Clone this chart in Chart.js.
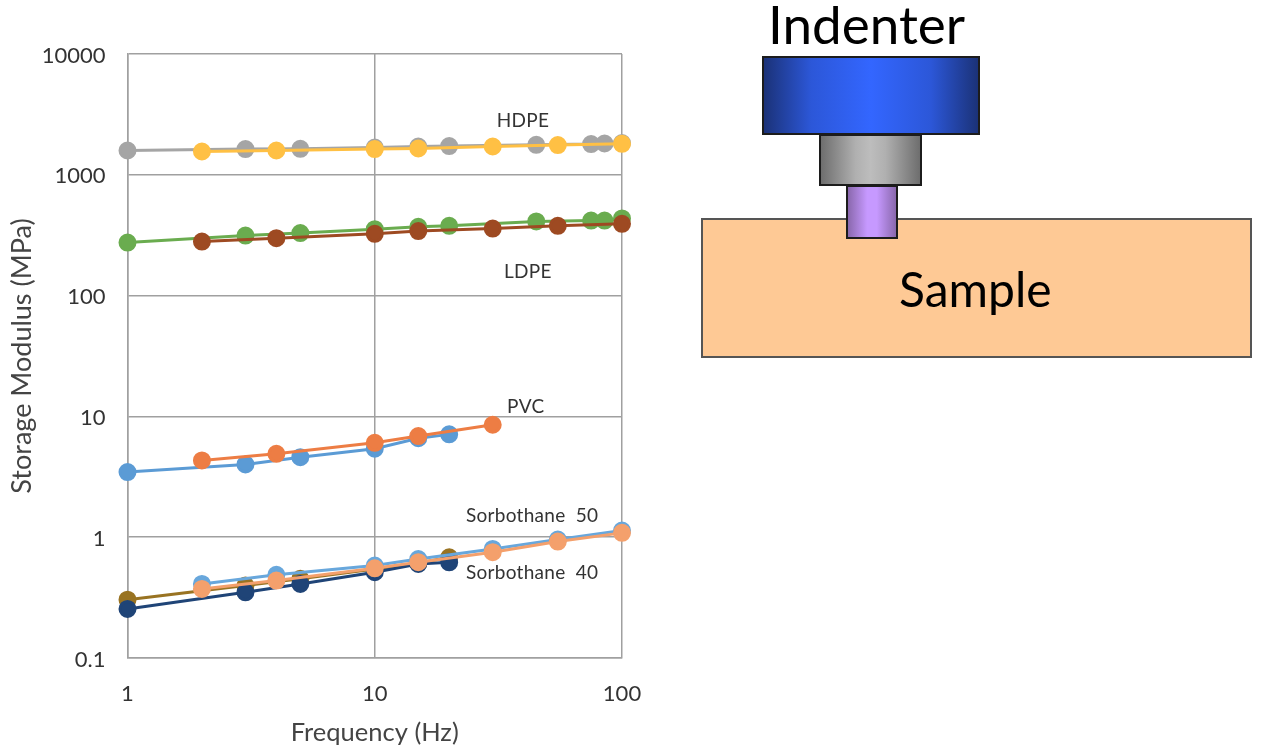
<!DOCTYPE html>
<html>
<head>
<meta charset="utf-8">
<title>Storage modulus</title>
<script src="https://cdn.jsdelivr.net/npm/chart.js@4"></script>
<style>
  html, body { margin: 0; padding: 0; background: #fff; }
  #wrap { position: relative; width: 1267px; height: 754px; overflow: hidden; font-family: Lato, sans-serif; filter: blur(0.5px); }
  #chart { position: absolute; left: 0; top: 0; }
  .part { position: absolute; box-sizing: border-box; border: 2px solid #1c1c1c; }
  #head { left: 762px; top: 56px; width: 218px; height: 79px; background: linear-gradient(90deg, #1b3278 0%, #2c57d8 22%, #3366ff 50%, #2c57d8 78%, #1b3278 100%); }
  #neck { left: 819px; top: 134px; width: 103px; height: 52px; background: linear-gradient(90deg, #6e6e6e 0%, #b0b0b0 35%, #bdbdbd 50%, #b0b0b0 65%, #6e6e6e 100%); }
  #tip { left: 846px; top: 185px; width: 52px; height: 54px; background: linear-gradient(90deg, #8a68ad 0%, #c699ff 40%, #c699ff 60%, #8a68ad 100%); }
  #sample { left: 701px; top: 218px; width: 551px; height: 140px; background: #fec995; border: 2px solid #555; }
  .word { position: absolute; color: #000; white-space: nowrap; line-height: 1; }
  #w1 { left: 768px; top: -3px; font-size: 53px; }
  #w2 { left: 899px; top: 265px; font-size: 48px; }
</style>
</head>
<body>
<div id="wrap">
  <div class="part" id="sample"></div>
  <div class="part" id="head"></div>
  <div class="part" id="neck"></div>
  <div class="part" id="tip"></div>
  <div class="word" id="w1">Indenter</div>
  <div class="word" id="w2">Sample</div>
  <canvas id="chart" width="1267" height="754"></canvas>
</div>
<script>
// frequencies (Hz), two sweep sets
const freqA = [1, 3, 5, 10, 15, 20];
const freqB = [2, 4, 10, 15, 30];
const freqC = [1, 3, 5, 10, 15, 20, 45, 75, 85, 100];
const freqD = [2, 4, 10, 15, 30, 55, 100];

const hdpeA = [1589, 1632, 1641, 1683, 1715, 1728, 1771, 1795, 1816, 1830];
const hdpeB = [1559, 1589, 1632, 1651, 1715, 1761, 1805];
const ldpeA = [275, 314, 329, 355, 371, 378, 411, 418, 418, 435];
const ldpeB = [280, 299, 325, 342, 359, 378, 393];
const pvcA = [3.46, 4.0, 4.6, 5.4, 6.6, 7.1];
const pvcB = [4.32, 4.9, 6.05, 6.87, 8.53];
const sorb50A = [0.304, 0.398, 0.452, 0.545, 0.609, 0.682];
const sorb40A = [0.255, 0.35, 0.41, 0.513, 0.60, 0.62];
const sorb50B = [0.41, 0.488, 0.582, 0.66, 0.80, 0.957, 1.135];
const sorb40B = [0.373, 0.4375, 0.553, 0.621, 0.751, 0.92, 1.086];

const yTicks = [0.1, 1, 10, 100, 1000, 10000];
const xTicks = [1, 10, 100];

const noteTexts = ["HDPE", "LDPE", "PVC", "Sorbothane 50", "Sorbothane 40"];
const noteX = [39.8, 41.6, 40.8, 43.3, 43.3];
const noteY = [2800, 157, 12.1, 1.5, 0.508];

const FONT = "Lato, sans-serif";

function series(xs, ys, color) {
  return {
    data: xs.map((x, i) => ({ x: x, y: ys[i] })),
    borderColor: color,
    backgroundColor: color,
    borderWidth: 3,
    pointRadius: 7.5,
    pointHoverRadius: 7.5,
    tension: 0,
    clip: false
  };
}

const noteLabels = {
  id: "noteLabels",
  afterDatasetsDraw(chart) {
    const ctx = chart.ctx;
    ctx.save();
    ctx.fillStyle = "#333";
    ctx.font = "19px " + FONT;
    ctx.letterSpacing = "0.3px";
    ctx.wordSpacing = "5px";
    ctx.textAlign = "center";
    ctx.textBaseline = "middle";
    noteTexts.forEach((t, i) => {
      ctx.fillText(t, chart.scales.x.getPixelForValue(noteX[i]), chart.scales.y.getPixelForValue(noteY[i]));
    });
    ctx.restore();
  }
};

// chart.js paints the first dataset last, so the top marks go first here
new Chart(document.getElementById("chart"), {
  type: "line",
  data: {
    datasets: [
      series(freqD, sorb40B, "#f4a06c"),
      series(freqD, sorb50B, "#68a7dc"),
      series(freqA, sorb40A, "#1f4477"),
      series(freqA, sorb50A, "#997322"),
      series(freqB, pvcB, "#ed7d44"),
      series(freqA, pvcA, "#5b9bd5"),
      series(freqD, ldpeB, "#9e4a22"),
      series(freqC, ldpeA, "#6aac4f"),
      series(freqD, hdpeB, "#ffc044"),
      series(freqC, hdpeA, "#a5a5a5")
    ]
  },
  options: {
    responsive: false,
    animation: false,
    layout: { padding: { top: 54, right: 645, left: 0, bottom: 0 } },
    plugins: { legend: { display: false }, tooltip: { enabled: false } },
    scales: {
      x: {
        type: "logarithmic",
        min: 1,
        max: 100,
        afterBuildTicks: (s) => { s.ticks = xTicks.map((v) => ({ value: v })); },
        afterFit: (s) => { s.height = 96; },
        grid: { color: "#a0a0a0", lineWidth: 1.5, drawTicks: false },
        border: { color: "#a0a0a0", width: 1.5 },
        ticks: { color: "#333", font: { family: FONT, size: 22 }, padding: 23, maxRotation: 0, callback: (v) => String(v) },
        title: { display: true, text: "Frequency (Hz)", color: "#444", font: { family: FONT, size: 25.5 }, padding: { top: 0, bottom: 6 } }
      },
      y: {
        type: "logarithmic",
        min: 0.1,
        max: 10000,
        afterBuildTicks: (s) => { s.ticks = yTicks.map((v) => ({ value: v })); },
        afterFit: (s) => { s.width = 127.5; },
        grid: { color: "#a0a0a0", lineWidth: 1.5, drawTicks: false },
        border: { color: "#a0a0a0", width: 1.5 },
        ticks: { color: "#333", font: { family: FONT, size: 22 }, padding: 22, labelOffset: 1.5, callback: (v) => String(v) },
        title: { display: true, text: "Storage Modulus (MPa)", color: "#444", font: { family: FONT, size: 27 }, padding: { top: 6, bottom: 0 } }
      }
    }
  },
  plugins: [noteLabels]
});
</script>
</body>
</html>
